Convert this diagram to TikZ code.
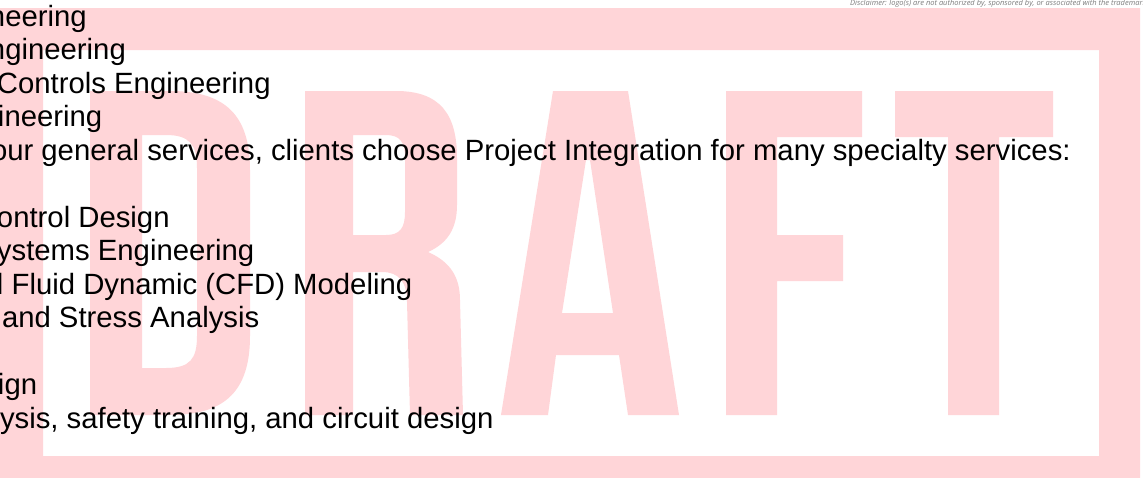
\documentclass[tikz,border=0pt]{standalone}
\usepackage{fontspec}
\setmainfont{Liberation Sans}
\newfontfamily\discfont{Open Sans}
\definecolor{wmpink}{RGB}{255,213,216}
\definecolor{discgray}{RGB}{125,125,125}
\tikzset{
  bodytext/.style={anchor=base west, inner sep=0pt, outer sep=0pt, text=black, font=\fontsize{29.3}{33}\selectfont},
  wmshape/.style={fill=wmpink, draw=none, even odd rule},
  disctext/.style={anchor=base west, inner sep=0pt, text=discgray, font=\discfont\itshape\fontsize{7.5}{8}\selectfont}
}
\begin{document}
\begin{tikzpicture}[x=1pt,y=-1pt]
\useasboundingbox (0,0) rectangle (1143,477);
\clip (0,0) rectangle (1143,477);
\fill[white] (0,0) rectangle (1143,477);
% frame of the watermark
\path[wmshape] (-60,8) rectangle (1140,530) (43,50) rectangle (1099,456);
% D
\path[wmshape] (90,91) -- (170,91) .. controls (226,91) and (250,116) .. (250,170) -- (250,336)
   .. controls (250,390) and (226,415) .. (170,415) -- (90,415) -- cycle
   (142,135) -- (166,135) .. controls (190,135) and (197,145) .. (197,168) -- (197,336)
   .. controls (197,359) and (190,368) .. (166,368) -- (142,368) -- cycle;
% R
\path[wmshape] (305,91) -- (396,91) .. controls (440,91) and (457,114) .. (457,158) -- (457,205)
   .. controls (457,228) and (448,243) .. (428,252) .. controls (451,262) and (460,278) .. (460,300)
   -- (463,415) -- (410,415) -- (407,302) .. controls (407,282) and (399,272) .. (382,272)
   -- (353,272) -- (353,415) -- (305,415) -- cycle
   (353,135) -- (386,135) .. controls (400,135) and (405,142) .. (405,158) -- (405,212)
   .. controls (405,228) and (400,235) .. (386,235) -- (353,235) -- cycle;
% A
\path[wmshape] (501,415) -- (553,91) -- (628,91) -- (679,415) -- (628,415) -- (619,355)
   -- (556,355) -- (548,415) -- cycle
   (562,313) -- (613,313) -- (590,160) -- (586,160) -- cycle;
% F
\path[wmshape] (726,91) -- (862,91) -- (862,137) -- (777,137) -- (777,235) -- (843,235)
   -- (843,281) -- (777,281) -- (777,415) -- (726,415) -- cycle;
% T
\path[wmshape] (895,91) -- (1053,91) -- (1053,137) -- (999,137) -- (999,415) -- (948,415)
   -- (948,137) -- (895,137) -- cycle;
% text lines
\node[bodytext] (l0) at (-11,26) {neering};
\node[bodytext] (l1) at (-11,59.5) {ngineering};
\node[bodytext] (l2) at (-3,93) {Controls Engineering};
\node[bodytext] (l3) at (-2,126.5) {ineering};
\node[bodytext] (l4) at (-9,160) {our general services, clients choose Project Integration for many specialty services:};
\node[bodytext] (l6) at (-3,227) {ontrol Design};
\node[bodytext] (l7) at (-3,260.5) {ystems Engineering};
\node[bodytext] (l8) at (-3,294) {l Fluid Dynamic (CFD) Modeling};
\node[bodytext] (l9) at (2,327.5) {and Stress Analysis};
\node[bodytext] (l11) at (-2,394.5) {ign};
\node[bodytext] (l12) at (0,428) {ysis, safety training, and circuit design};
% disclaimer
\node[disctext] (disc) at (850,5.6) {Disclaimer: logo(s) are not authorized by, sponsored by, or associated with the trademark};
\end{tikzpicture}
\end{document}
